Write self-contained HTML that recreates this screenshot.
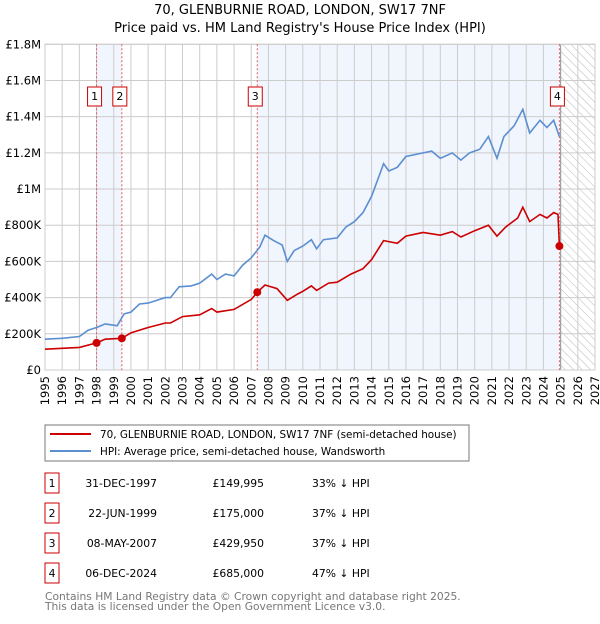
<!DOCTYPE html>
<html><head><meta charset="utf-8"><style>
body{margin:0;background:#fff;font-family:"DejaVu Sans","Liberation Sans",sans-serif;}
svg text{font-family:"DejaVu Sans","Liberation Sans",sans-serif;}
</style></head><body>
<svg id="c" width="600" height="620" viewBox="0 0 600 620">
<defs><pattern id="hatch" width="6" height="6" patternUnits="userSpaceOnUse" patternTransform="rotate(-45)"><line x1="0" y1="0" x2="0" y2="6" stroke="#bbb" stroke-width="1"/></pattern></defs>
<text x="300" y="14" text-anchor="middle" font-size="13">70, GLENBURNIE ROAD, LONDON, SW17 7NF</text>
<text x="300" y="32" text-anchor="middle" font-size="13">Price paid vs. HM Land Registry's House Price Index (HPI)</text>
<g id="plot"></g>
<rect x="45" y="425" width="424" height="36" fill="#fff" stroke="#777"/>
<line x1="50" y1="434" x2="91" y2="434" stroke="#cc0000" stroke-width="2"/>
<text x="100" y="438" font-size="10.4">70, GLENBURNIE ROAD, LONDON, SW17 7NF (semi-detached house)</text>
<line x1="50" y1="451" x2="91" y2="451" stroke="#5b8fd0" stroke-width="2"/>
<text x="100" y="455" font-size="10.4">HPI: Average price, semi-detached house, Wandsworth</text>
<g id="tbl" font-size="10.8"></g>
<text x="45" y="600" font-size="10.7" fill="#777">Contains HM Land Registry data © Crown copyright and database right 2025.</text>
<text x="45" y="610" font-size="10.7" fill="#777">This data is licensed under the Open Government Licence v3.0.</text>
</svg>
<script>
const yTicks=[0,200000,400000,600000,800000,1000000,1200000,1400000,1600000,1800000];
const yLabels=["£0","£200K","£400K","£600K","£800K","£1M","£1.2M","£1.4M","£1.6M","£1.8M"];
const hpiT=[1995,1996,1997,1997.5,1998,1998.5,1999.2,1999.6,2000,2000.5,2001,2002,2002.3,2002.8,2003.5,2004,2004.7,2005,2005.5,2006,2006.5,2007,2007.5,2007.8,2008.3,2008.8,2009.1,2009.5,2010,2010.5,2010.8,2011.2,2012,2012.5,2013,2013.5,2014,2014.7,2015,2015.5,2016,2017,2017.5,2018,2018.7,2019.2,2019.7,2020.3,2020.8,2021.3,2021.7,2022.3,2022.8,2023.2,2023.8,2024.2,2024.6,2024.93];
const hpiV=[170000,175000,185000,220000,235000,255000,245000,310000,320000,365000,370000,400000,400000,460000,465000,480000,530000,500000,530000,520000,580000,620000,680000,745000,715000,690000,600000,660000,685000,720000,670000,720000,730000,790000,820000,870000,960000,1140000,1100000,1120000,1180000,1200000,1210000,1170000,1200000,1160000,1200000,1220000,1290000,1170000,1290000,1350000,1440000,1310000,1380000,1340000,1380000,1290000];
const prT=[1995,1997,1998,1998.5,1999.47,2000,2001,2002,2002.3,2003,2004,2004.7,2005,2006,2007,2007.35,2007.8,2008.5,2009.1,2009.7,2010,2010.5,2010.8,2011.5,2012,2012.8,2013.5,2014,2014.7,2015.5,2016,2017,2018,2018.7,2019.2,2020,2020.8,2021.3,2021.8,2022.5,2022.8,2023.2,2023.8,2024.2,2024.6,2024.85,2024.93];
const prV=[115000,125000,150000,170000,175000,205000,235000,260000,260000,295000,305000,340000,320000,335000,390000,430000,470000,450000,385000,420000,435000,465000,440000,480000,485000,530000,560000,610000,715000,700000,740000,760000,745000,765000,735000,770000,800000,740000,790000,840000,900000,820000,860000,840000,870000,860000,685000];
const saleIds=["1","2","3","4"];
const saleT=[1998.0,1999.47,2007.35,2024.93];
const saleV=[149995,175000,429950,685000];
const saleDates=["31-DEC-1997","22-JUN-1999","08-MAY-2007","06-DEC-2024"];
const salePrices=["£149,995","£175,000","£429,950","£685,000"];
const saleHpi=["33% ↓ HPI","37% ↓ HPI","37% ↓ HPI","47% ↓ HPI"];
const years=[];for(let y=1995;y<=2027;y++)years.push(y);

const X0=45,X1=595,Y0=370,Y1=44.3,T0=1995,T1=2027,VMAX=1800000;
const xs=t=>X0+(t-T0)/(T1-T0)*(X1-X0);
const ys=v=>Y0-v/VMAX*(Y0-Y1);
const NS="http://www.w3.org/2000/svg";
const plot=document.getElementById('plot');
function mk(tag,attrs,parent){const e=document.createElementNS(NS,tag);for(const k in attrs)e.setAttribute(k,attrs[k]);(parent||plot).appendChild(e);return e;}
let e;
e=mk('rect',{x:xs(saleT[0]),y:Y1,width:xs(saleT[1])-xs(saleT[0]),height:Y0-Y1,fill:'#eef3fc',opacity:0.8});


e=mk('rect',{x:xs(saleT[2]),y:Y1,width:xs(saleT[3])-xs(saleT[2]),height:Y0-Y1,fill:'#eef3fc',opacity:0.8});


e=mk('rect',{x:xs(2025),y:Y1,width:X1-xs(2025),height:Y0-Y1,fill:'url(#hatch)'});


years.forEach(y=>{const g=mk('line',{x1:xs(y),x2:xs(y),y1:Y1,y2:Y0,stroke:'#ccc','stroke-width':1});


const t=mk('text',{x:0,y:0,'font-size':11.5,'text-anchor':'end',transform:`translate(${xs(y)+4},${Y0+6}) rotate(-90)`});t.textContent=y;

});
yTicks.forEach((v,i)=>{const g=mk('line',{x1:X0,x2:X1,y1:ys(v),y2:ys(v),stroke:'#ccc','stroke-width':1});


const t=mk('text',{x:X0-4,y:ys(v)+4,'font-size':11.5,'text-anchor':'end'});t.textContent=yLabels[i];

});
e=mk('line',{x1:xs(2025),x2:xs(2025),y1:Y1,y2:Y0,stroke:'#999','stroke-width':1});


e=mk('rect',{x:X0,y:Y1,width:X1-X0,height:Y0-Y1,fill:'none',stroke:'#ccc'});


saleT.forEach((t,i)=>{const l=mk('line',{x1:xs(t),x2:xs(t),y1:Y1,y2:Y0,stroke:'#e06060','stroke-width':1,'stroke-dasharray':'2,2'});


const r=mk('rect',{x:xs(t)-9,y:87,width:14,height:19,fill:'#fff',stroke:'#cc0000'});


const tx=mk('text',{x:xs(t)-2,y:100,'font-size':11,'text-anchor':'middle'});tx.textContent=saleIds[i];

});
const path=(T,V)=>T.map((t,i)=>(i?'L':'M')+xs(t).toFixed(1)+','+ys(V[i]).toFixed(1)).join('');
e=mk('path',{d:path(hpiT,hpiV),fill:'none',stroke:'#5b8fd0','stroke-width':1.6});


e=mk('path',{d:path(prT,prV),fill:'none',stroke:'#cc0000','stroke-width':1.6});


saleT.forEach((t,i)=>{const c=mk('circle',{cx:xs(t),cy:ys(saleV[i]),r:4,fill:'#cc0000'});

});
const tbl=document.getElementById('tbl');
saleIds.forEach((id,i)=>{const cy=483+i*30;
const r=mk('rect',{x:45,y:cy-10,width:14,height:20,fill:'#fff',stroke:'#cc0000'},tbl);


const a=mk('text',{x:52,y:cy+4,'text-anchor':'middle'},tbl);a.textContent=id;


const d=mk('text',{x:157,y:cy+4,'text-anchor':'end'},tbl);d.textContent=saleDates[i];


const p=mk('text',{x:264,y:cy+4,'text-anchor':'end'},tbl);p.textContent=salePrices[i];


const h=mk('text',{x:312,y:cy+4},tbl);h.textContent=saleHpi[i];

});
</script>
</body></html>
